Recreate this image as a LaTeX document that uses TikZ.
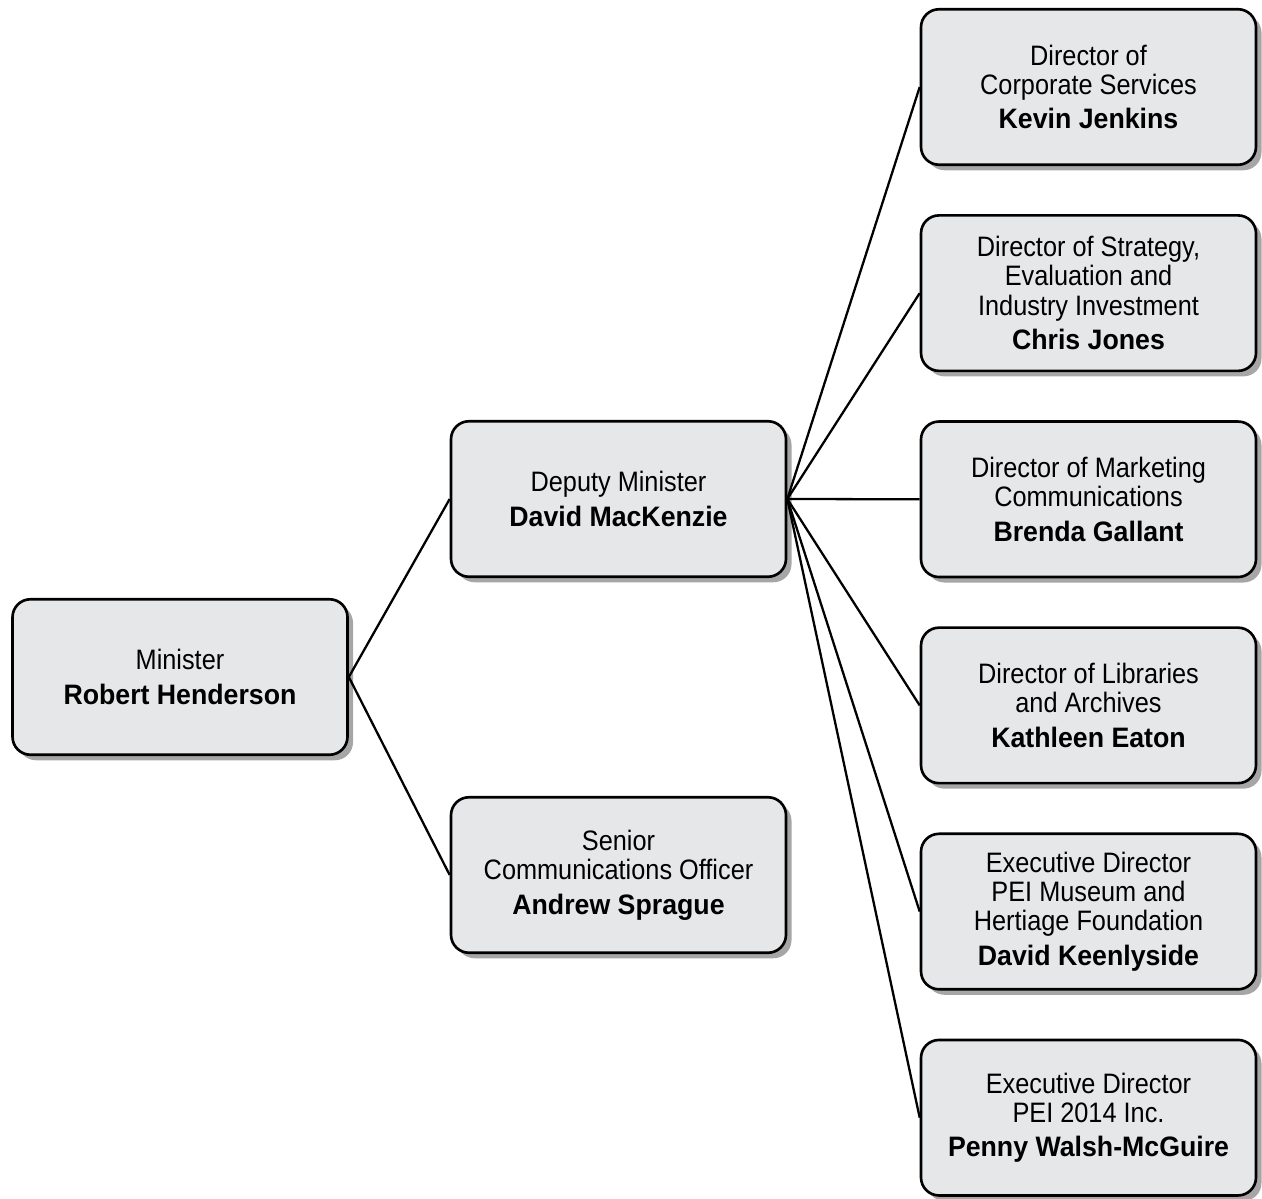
\documentclass[tikz,border=0pt]{standalone}
\usepackage{fontspec}
\setmainfont{Liberation Sans}[FakeStretch=0.9, BoldFeatures={FakeStretch=0.95}]
\usetikzlibrary{positioning, shadows}
\definecolor{boxgray}{HTML}{E6E7E8}
\tikzset{
  orgbox/.style={draw, line width=1.5pt, rounded corners=0.36cm, fill=boxgray,
    minimum width=6.7cm, minimum height=3.11cm, align=center,
    font=\fontsize{16}{16.6}\selectfont,
    drop shadow={shadow xshift=0.11cm, shadow yshift=-0.11cm,
                 fill=black, opacity=0.35}},
  link/.style={line width=1.3pt}
}
\newcommand{\who}[1]{\\[3pt]{\fontsize{16}{18}\selectfont\bfseries #1}}

\begin{document}
\begin{tikzpicture}
  \useasboundingbox (0,0) rectangle (25.24,-23.96);
  % minister and direct reports
  \node[orgbox] (minister) at (3.6,-13.54) {Minister\who{Robert Henderson}};
  \node[orgbox] (deputy) at (12.37,-9.98) {Deputy Minister\who{David MacKenzie}};
  \node[orgbox] (senior) at (12.37,-17.5)
    {Senior\\Communications Officer\who{Andrew Sprague}};

  % directors
  \node[orgbox] (corporate) at (21.77,-1.74)
    {Director of\\Corporate Services\who{Kevin Jenkins}};
  \node[orgbox, below=0.96cm of corporate] (strategy)
    {Director of Strategy,\\Evaluation and\\Industry Investment\who{Chris Jones}};
  \node[orgbox, below=0.96cm of strategy] (marketing)
    {Director of Marketing\\Communications\who{Brenda Gallant}};
  \node[orgbox, below=0.96cm of marketing] (libraries)
    {Director of Libraries\\and Archives\who{Kathleen Eaton}};
  \node[orgbox, below=0.96cm of libraries] (museum)
    {Executive Director\\PEI Museum and\\Hertiage Foundation\who{David Keenlyside}};
  \node[orgbox, below=0.96cm of museum] (pei)
    {Executive Director\\PEI 2014 Inc.\who{Penny Walsh-McGuire}};

  \draw[link] (minister.east) -- (deputy.west);
  \draw[link] (minister.east) -- (senior.west);
  \foreach \n in {corporate, strategy, marketing, libraries, museum, pei}
    \draw[link] (deputy.east) -- (\n.west);
\end{tikzpicture}
\end{document}
